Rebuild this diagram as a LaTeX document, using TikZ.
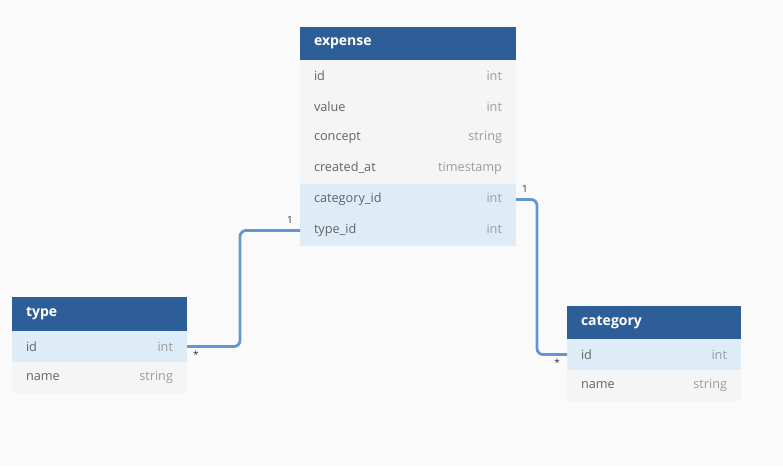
\documentclass[tikz,border=0pt]{standalone}
\usepackage{fontspec}
\setmainfont{Open Sans}
\usetikzlibrary{positioning}
\definecolor{canvas}{HTML}{FAFAFB}
\definecolor{headblue}{HTML}{2D5E98}
\definecolor{keyrow}{HTML}{DDECF6}
\definecolor{plainrow}{HTML}{F5F5F5}
\definecolor{colname}{HTML}{646464}
\definecolor{coltype}{HTML}{9C9C9C}
\definecolor{linkblue}{HTML}{6397D1}
\newcommand{\fld}[2]{\textcolor{colname}{#1}\hfill\textcolor{coltype}{#2}}
\tikzset{
  tblhead/.style={fill=headblue, text=white, font=\fontsize{14}{16}\selectfont\bfseries,
    anchor=north west, minimum height=33pt, inner xsep=14pt, outer sep=0pt, align=left},
  tblrow/.style={fill=plainrow, font=\fontsize{12.7}{14}\selectfont, minimum height=31pt,
    inner xsep=14pt, outer sep=0pt, below=0pt of #1},
  keyfld/.style={tblrow=#1, fill=keyrow},
  link/.style={draw=linkblue, line width=2.8pt, rounded corners=6pt},
  card/.style={font=\fontsize{10}{12}\selectfont, text=black!80, inner sep=0pt}
}
\begin{document}
\begin{tikzpicture}[x=1pt,y=-1pt]
  \fill[canvas] (0,0) rectangle (783,466);
  \useasboundingbox (0,0) rectangle (783,466);
  % expense
  \node[tblhead, text width=188pt] (exp) at (300,27) {expense};
  \node[tblrow=exp, text width=188pt] (eid) {\fld{id}{int}};
  \node[tblrow=eid, text width=188pt] (eval) {\fld{value}{int}};
  \node[tblrow=eval, text width=188pt] (econ) {\fld{concept}{string}};
  \node[tblrow=econ, text width=188pt] (ecre) {\fld{created\_at}{timestamp}};
  \node[keyfld=ecre, text width=188pt] (ecat) {\fld{category\_id}{int}};
  \node[keyfld=ecat, text width=188pt] (etyp) {\fld{type\_id}{int}};
  % type
  \node[tblhead, text width=147pt, minimum height=34pt] (typ) at (12,297) {type};
  \node[keyfld=typ, text width=147pt] (tid) {\fld{id}{int}};
  \node[tblrow=tid, text width=147pt] (tname) {\fld{name}{string}};
  % category
  \node[tblhead, text width=146pt] (cat) at (567,306) {category};
  \node[keyfld=cat, text width=146pt] (cid) {\fld{id}{int}};
  \node[tblrow=cid, text width=146pt] (cname) {\fld{name}{string}};
  % relations
  \draw[link] (tid.east) -| ([xshift=-60pt]etyp.west) -- (etyp.west);
  \draw[link] (ecat.east) -| ([xshift=-30pt]cid.west) -- (cid.west);
  \node[card] (c1) at ([xshift=-10pt,yshift=11pt]etyp.west) {1};
  \node[card] (c2) at ([xshift=9pt,yshift=-8pt]tid.east) {*};
  \node[card] (c3) at ([xshift=9pt,yshift=11pt]ecat.east) {1};
  \node[card] (c4) at ([xshift=-10pt,yshift=-8pt]cid.west) {*};
\end{tikzpicture}
\end{document}
